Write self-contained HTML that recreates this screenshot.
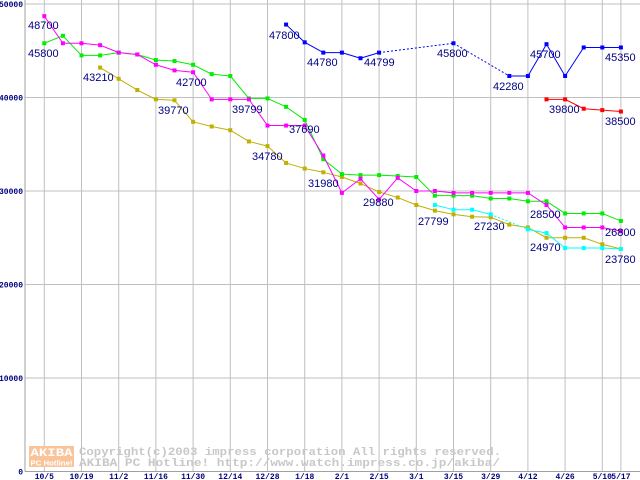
<!DOCTYPE html>
<html><head><meta charset="utf-8"><style>
html,body{margin:0;padding:0;background:#fff;}
svg{display:block;}
.lab{font-family:"Liberation Sans",sans-serif;font-size:11px;fill:#000080;}
.tick{font-family:"Liberation Mono",monospace;font-size:8px;font-weight:bold;fill:#000080;}
.cp{font-family:"Liberation Mono",monospace;font-size:11px;font-weight:bold;fill:#c8c8c8;}
</style></head><body>
<svg id="chart" width="640" height="480" viewBox="0 0 640 480" xmlns="http://www.w3.org/2000/svg">
<g id="grid"></g>
<g id="wm">
<rect x="29" y="446" width="45" height="21" fill="#f9c49a"/>
<text x="51.5" y="456" text-anchor="middle" font-family="Liberation Mono,monospace" font-weight="bold" font-size="11" textLength="42" lengthAdjust="spacingAndGlyphs" fill="#fff">AKIBA</text>
<text x="51.5" y="465.5" text-anchor="middle" font-family="Liberation Sans,sans-serif" font-weight="bold" font-size="7.5" textLength="42" lengthAdjust="spacingAndGlyphs" fill="#fff">PC Hotline!</text>
<text class="cp" x="79" y="455" textLength="422" lengthAdjust="spacingAndGlyphs">Copyright(c)2003 impress corporation All rights reserved.</text>
<text class="cp" x="79" y="466" textLength="421" lengthAdjust="spacingAndGlyphs">AKIBA PC Hotline!  http://www.watch.impress.co.jp/akiba/</text>
</g>
<g id="series"></g>
<g id="labels">
<text class="lab" x="28" y="29">48700</text>
<text class="lab" x="28" y="57">45800</text>
<text class="lab" x="83" y="81">43210</text>
<text class="lab" x="176" y="86">42700</text>
<text class="lab" x="158" y="114">39770</text>
<text class="lab" x="232" y="113">39799</text>
<text class="lab" x="289" y="133">37690</text>
<text class="lab" x="252" y="160">34780</text>
<text class="lab" x="269" y="39">47800</text>
<text class="lab" x="307" y="66">44780</text>
<text class="lab" x="308" y="187">31980</text>
<text class="lab" x="363" y="206">29880</text>
<text class="lab" x="364" y="66">44799</text>
<text class="lab" x="437" y="57">45800</text>
<text class="lab" x="493" y="90">42280</text>
<text class="lab" x="530" y="58">45700</text>
<text class="lab" x="605" y="61">45350</text>
<text class="lab" x="549" y="113">39800</text>
<text class="lab" x="605" y="125">38500</text>
<text class="lab" x="418" y="225">27799</text>
<text class="lab" x="474" y="230">27230</text>
<text class="lab" x="530" y="218">28500</text>
<text class="lab" x="605" y="236">26800</text>
<text class="lab" x="530" y="251">24970</text>
<text class="lab" x="605" y="263">23780</text>
</g>
</svg>
<script>
const xLabels = ["10/5","10/19","11/2","11/16","11/30","12/14","12/28","1/18","2/1","2/15","3/1","3/15","3/29","4/12","4/26","5/10","5/17"];
const xLabelIdx = [0,2,4,6,8,10,12,14,16,18,20,22,24,26,28,30,31];
const yTicks = [0,10000,20000,30000,40000,50000];
const magenta = [48700,45800,45800,45600,44800,44600,43500,42900,42700,39800,39800,39800,37000,37000,37000,33800,29800,31300,29100,31400,30000,30000,29800,29800,29800,29800,29800,28500,26100,26100,26100,25700];
const green = [45800,46600,44500,44500,44800,44600,44000,43900,43500,42500,42300,39900,39900,39000,37600,33400,31800,31700,31700,31600,31500,29500,29500,29500,29200,29200,28900,28900,27600,27600,27600,26800];
const olive = [null,null,null,43200,42000,40800,39800,39700,37400,36900,36500,35300,34800,33000,32400,32000,31500,30800,29900,29300,28500,27900,27500,27250,27200,26400,26100,25000,25000,25000,24300,23800];
const blue = [null,null,null,null,null,null,null,null,null,null,null,null,null,47800,45900,44800,44800,44200,44800,null,null,null,45800,null,null,42300,42300,45700,42300,45350,45350,45350];
const red = [null,null,null,null,null,null,null,null,null,null,null,null,null,null,null,null,null,null,null,null,null,null,null,null,null,null,null,39800,39800,38800,38650,38500];
const cyan = [null,null,null,null,null,null,null,null,null,null,null,null,null,null,null,null,null,null,null,null,null,28500,28000,28000,27500,null,25900,25500,23900,23900,23900,23800];

const NS="http://www.w3.org/2000/svg";
const X0=44.3, DX=18.6, Y0=471.5, YS=0.00935;
function xs(i){return X0+DX*i;}
function ys(v){return Y0-v*YS;}
function mk(tag,attrs,parent){const e=document.createElementNS(NS,tag);for(const k in attrs)e.setAttribute(k,attrs[k]);parent.appendChild(e);return e;}
const grid=document.getElementById('grid');
yTicks.forEach(function(v){
  const l=mk('line',{x1:25,x2:640,y1:ys(v),y2:ys(v),stroke:'#c0c0c0','stroke-width':1},grid);
  
  
  const t=mk('text',{x:23,y:ys(v)+3,'text-anchor':'end','class':'tick'},grid);
  t.textContent=String(v);
  
  
});
xLabelIdx.forEach(function(idx,k){
  const x=xs(idx);
  const l=mk('line',{x1:x,x2:x,y1:0,y2:Y0,stroke:'#c0c0c0','stroke-width':1},grid);
  
  
  const t=mk('text',{x:x,y:479,'text-anchor':'middle','class':'tick'},grid);
  t.textContent=xLabels[k];
  
  
});
const ax=mk('line',{x1:25,x2:25,y1:0,y2:Y0,stroke:'#a0a0a0'},grid);


const bx=mk('line',{x1:25,x2:640,y1:Y0,y2:Y0,stroke:'#a0a0a0'},grid);



const sg=document.getElementById('series');
function drawSeries(vals,color,name){
  const g=mk('g',{},sg);
  
  
  let prev=-1;
  for(let i=0;i<vals.length;i++){
    if(vals[i]==null)continue;
    if(prev>=0){
      const a={x1:xs(prev),y1:ys(vals[prev]),x2:xs(i),y2:ys(vals[i]),stroke:color,'stroke-width':1};
      if(i-prev>1)a['stroke-dasharray']='2,2';
      const l=mk('line',a,g);
      
      
    }
    prev=i;
  }
  for(let i=0;i<vals.length;i++){
    if(vals[i]==null)continue;
    const r=mk('rect',{x:xs(i)-2,y:ys(vals[i])-2,width:4,height:4,fill:color},g);
    
    
  }
}
drawSeries(olive,'#c0b000','olive-series');
drawSeries(cyan,'#00ffff','cyan-series');
drawSeries(green,'#00ee00','green-series');
drawSeries(magenta,'#ff00ff','magenta-series');
drawSeries(blue,'#0000ff','blue-series');
drawSeries(red,'#ff0000','red-series');
</script>
</body></html>
